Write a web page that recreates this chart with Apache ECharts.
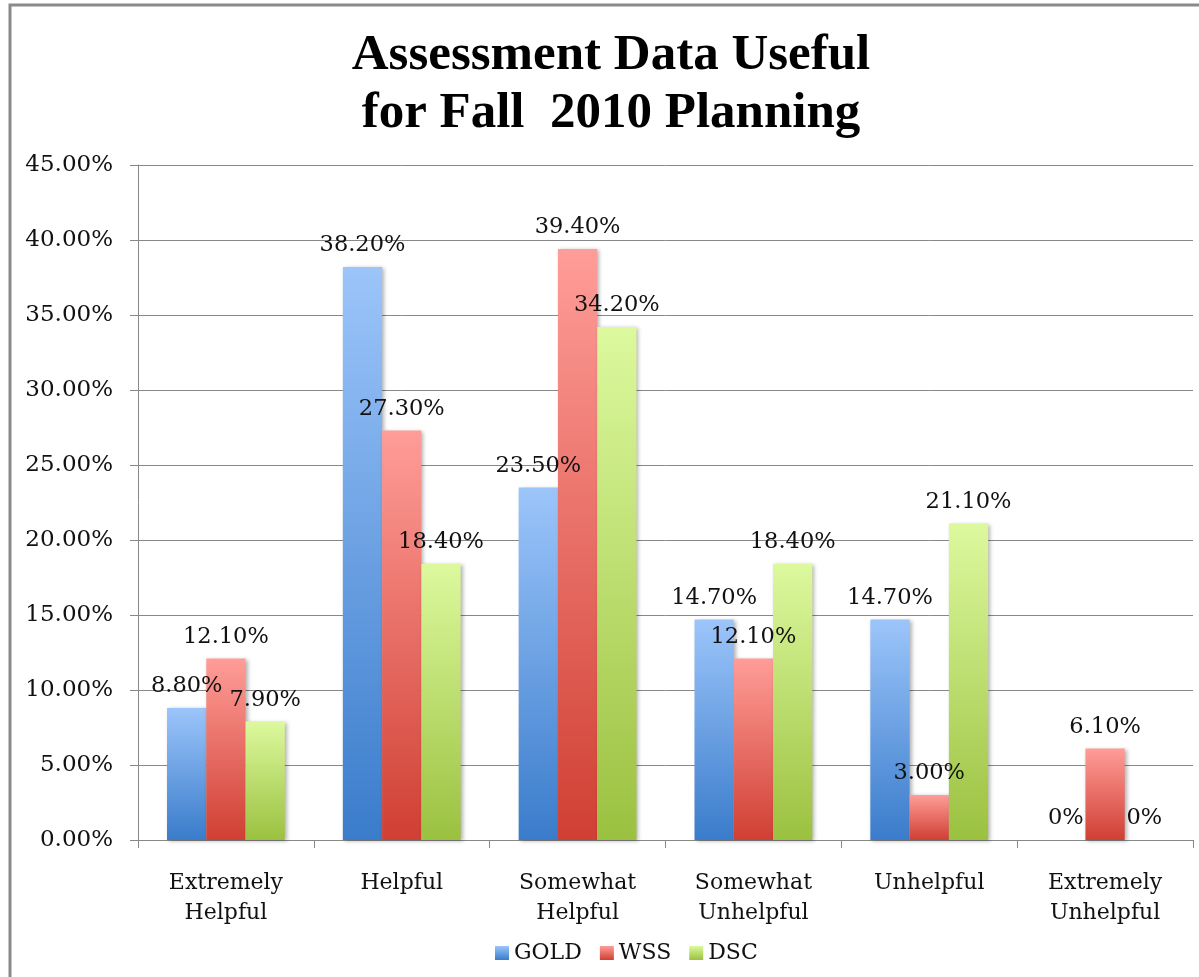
<!DOCTYPE html>
<html>
<head>
<meta charset="utf-8">
<script src="https://cdn.jsdelivr.net/npm/echarts@6/dist/echarts.min.js"></script>
<style>
  html, body { margin: 0; padding: 0; background: #fff; }
  #chart { width: 1199px; height: 977px; }
</style>
</head>
<body>
<div id="chart"></div>
<script>
// data (percent)
var categories = ['Extremely\nHelpful', 'Helpful', 'Somewhat\nHelpful', 'Somewhat\nUnhelpful', 'Unhelpful', 'Extremely\nUnhelpful'];
var gold = [8.8, 38.2, 23.5, 14.7, 14.7, 0];
var wss = [12.1, 27.3, 39.4, 12.1, 3.0, 6.1];
var dsc = [7.9, 18.4, 34.2, 18.4, 21.1, 0];
var yTicks = { min: 0, max: 45, interval: 5 };

var labelFont = 'DejaVu Serif';

function grad(top, bottom) {
    return new echarts.graphic.LinearGradient(0, 0, 0, 1, [
        { offset: 0, color: top },
        { offset: 1, color: bottom }
    ]);
}

function makeSeries(name, data, top, bottom) {
    return {
        name: name,
        type: 'bar',
        data: data,
        barGap: '0%',
        barCategoryGap: '33%',
        itemStyle: {
            color: grad(top, bottom),
            shadowColor: 'rgba(0,0,0,0.3)',
            shadowBlur: 4,
            shadowOffsetX: 2,
            shadowOffsetY: 1
        },
        label: {
            show: true,
            position: 'top',
            distance: 10,
            color: '#111',
            fontFamily: labelFont,
            fontSize: 22.5,
            formatter: function (p) {
                return p.value === 0 ? '0%' : p.value.toFixed(2) + '%';
            }
        }
    };
}

var chart = echarts.init(document.getElementById('chart'));

var option = {
    animation: false,
    title: {
        text: 'Assessment Data Useful\nfor Fall  2010 Planning',
        left: 606,
        textAlign: 'center',
        top: 22,
        textStyle: {
            fontFamily: 'Liberation Serif',
            fontWeight: 'bold',
            fontSize: 51,
            lineHeight: 58,
            color: '#000'
        }
    },
    graphic: [{
        type: 'rect',
        shape: { x: 10, y: 5, width: 1400, height: 1200 },
        style: { fill: 'none', stroke: '#8a8a8a', lineWidth: 3 },
        silent: true,
        z: -10
    }],
    legend: {
        bottom: 8,
        left: 490,
        itemWidth: 14,
        itemHeight: 14,
        itemGap: 18,
        icon: 'rect',
        textStyle: { fontFamily: labelFont, fontSize: 22, color: '#111' },
        data: ['GOLD', 'WSS', 'DSC']
    },
    grid: {
        left: 138,
        right: 6,
        top: 165,
        bottom: 137
    },
    xAxis: {
        type: 'category',
        data: categories,
        axisLine: { lineStyle: { color: '#888', width: 1 } },
        axisTick: { show: true, length: 8, lineStyle: { color: '#888' } },
        axisLabel: {
            color: '#111',
            fontFamily: labelFont,
            fontSize: 22,
            lineHeight: 30,
            margin: 28,
            interval: 0
        }
    },
    yAxis: {
        type: 'value',
        min: yTicks.min,
        max: yTicks.max,
        interval: yTicks.interval,
        axisLine: { show: true, lineStyle: { color: '#888', width: 1 } },
        axisTick: { show: true, length: 8, lineStyle: { color: '#888' } },
        splitLine: { lineStyle: { color: '#888', width: 1 } },
        axisLabel: {
            color: '#111',
            fontFamily: labelFont,
            fontSize: 23,
            margin: 25,
            formatter: function (v) { return v.toFixed(2) + '%'; }
        }
    },
    series: [
        makeSeries('GOLD', gold, '#9cc5fa', '#3a7ccb'),
        makeSeries('WSS', wss, '#ff9d98', '#d03f33'),
        makeSeries('DSC', dsc, '#dcf99e', '#9bc140')
    ]
};

chart.setOption(option);
</script>
</body>
</html>
